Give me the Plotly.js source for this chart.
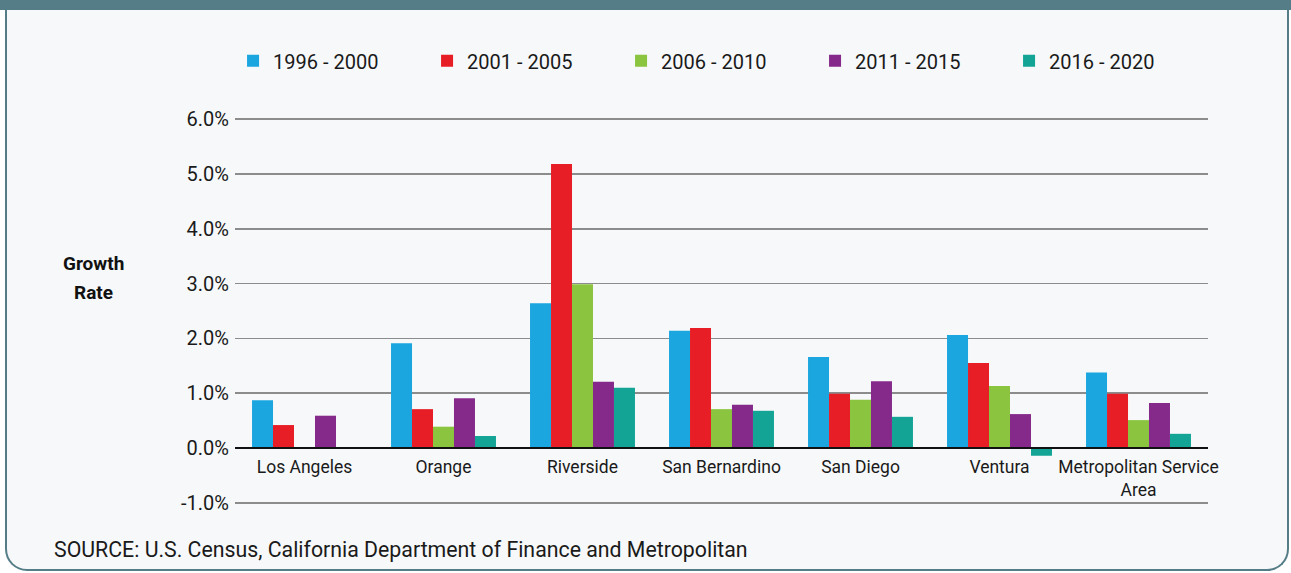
<!DOCTYPE html>
<html>
<head>
<meta charset="utf-8">
<script src="https://cdn.plot.ly/plotly-3.0.1.min.js"></script>
<style>
  html, body { margin: 0; padding: 0; background: #ffffff; }
  #frame { position: relative; width: 1291px; height: 573px; overflow: hidden; background: #ffffff; }
  #band { position: absolute; left: 0; top: 0; width: 1291px; height: 10px; background: #557d87; }
  #panel { position: absolute; left: 5px; top: 10px; width: 1280px; height: 559px;
           background: #f6f8f9; border: 2px solid #557d87; border-top: none;
           border-radius: 0 0 22px 22px; }
  #chart { position: absolute; left: 0; top: 0; width: 1291px; height: 573px; }
</style>
</head>
<body>
<div id="frame">
  <div id="band"></div>
  <div id="panel"></div>
  <div id="chart"></div>
</div>
<script>
const categories = ["Los Angeles", "Orange", "Riverside", "San Bernardino", "San Diego", "Ventura", "Metropolitan Service<br>Area"];
const seriesNames = ["1996 - 2000", "2001 - 2005", "2006 - 2010", "2011 - 2015", "2016 - 2020"];
const s1996_2000 = [0.87, 1.91, 2.64, 2.14, 1.66, 2.06, 1.38];
const s2001_2005 = [0.42, 0.71, 5.18, 2.19, 0.99, 1.55, 0.99];
const s2006_2010 = [0.00, 0.39, 2.99, 0.71, 0.88, 1.13, 0.51];
const s2011_2015 = [0.59, 0.91, 1.21, 0.79, 1.22, 0.62, 0.82];
const s2016_2020 = [0.00, 0.22, 1.10, 0.68, 0.57, -0.14, 0.26];
const seriesValues = [s1996_2000, s2001_2005, s2006_2010, s2011_2015, s2016_2020];
const seriesColors = ["#1ba6e0", "#e81e26", "#8bc43f", "#852a8a", "#13a496"];
const yTickValues = [-1, 0, 1, 2, 3, 4, 5, 6];
const yTickLabels = yTickValues.map(v => v.toFixed(1) + "%");

const fontFam = "Roboto, 'Open Sans', sans-serif";
const yRange = [-1.02, 6.02];

const traces = seriesNames.map((name, i) => ({
  type: "bar",
  name: name,
  x: categories,
  y: seriesValues[i],
  marker: { color: seriesColors[i], line: { width: 0 } },
  hoverinfo: "x+y+name"
}));

const layout = {
  width: 1291,
  height: 573,
  margin: { l: 235, r: 83, t: 118, b: 69, pad: 0 },
  paper_bgcolor: "rgba(0,0,0,0)",
  plot_bgcolor: "rgba(0,0,0,0)",
  barmode: "group",
  bargap: 0.245,
  bargroupgap: 0,
  font: { family: fontFam, size: 18, color: "#1a1a1a" },
  showlegend: true,
  legend: {
    orientation: "h",
    x: -0.002, xanchor: "left",
    y: 1.148, yanchor: "middle",
    entrywidth: 149, entrywidthmode: "pixels",
    font: { family: fontFam, size: 20, color: "#1a1a1a" },
    bgcolor: "rgba(0,0,0,0)",
    traceorder: "normal"
  },
  xaxis: {
    type: "category",
    anchor: "free",
    position: (0 - yRange[0]) / (yRange[1] - yRange[0]),
    showline: true,
    linecolor: "#111111",
    linewidth: 2,
    showgrid: false,
    ticks: "",
    ticklabelstandoff: 3,
    tickfont: { family: fontFam, size: 17.5, color: "#1a1a1a" },
    fixedrange: true
  },
  yaxis: {
    range: yRange,
    tickvals: yTickValues,
    ticktext: yTickLabels,
    showgrid: true,
    gridcolor: "#8c8c8c",
    gridwidth: 1.5,
    zeroline: true,
    zerolinecolor: "#111111",
    zerolinewidth: 2,
    showline: false,
    ticks: "",
    ticklabelstandoff: 5,
    tickfont: { family: fontFam, size: 20, color: "#1a1a1a" },
    fixedrange: true
  },
  annotations: [
    {
      text: "<b>Growth</b>", xref: "paper", yref: "paper",
      x: (93 - 235) / 973, y: (504 - 263) / 386, xanchor: "center", yanchor: "middle",
      showarrow: false, font: { family: fontFam, size: 19, color: "#111111" }
    },
    {
      text: "<b>Rate</b>", xref: "paper", yref: "paper",
      x: (93 - 235) / 973, y: (504 - 292) / 386, xanchor: "center", yanchor: "middle",
      showarrow: false, font: { family: fontFam, size: 19, color: "#111111" }
    },
    {
      text: "SOURCE: U.S. Census, California Department of Finance and Metropolitan",
      xref: "paper", yref: "paper",
      x: (52 - 235) / 973, y: (504 - 549) / 386, xanchor: "left", yanchor: "middle",
      showarrow: false, font: { family: fontFam, size: 21.3, color: "#1a1a1a" }
    }
  ]
};

Plotly.newPlot("chart", traces, layout, { displayModeBar: false, staticPlot: true });
</script>
</body>
</html>
